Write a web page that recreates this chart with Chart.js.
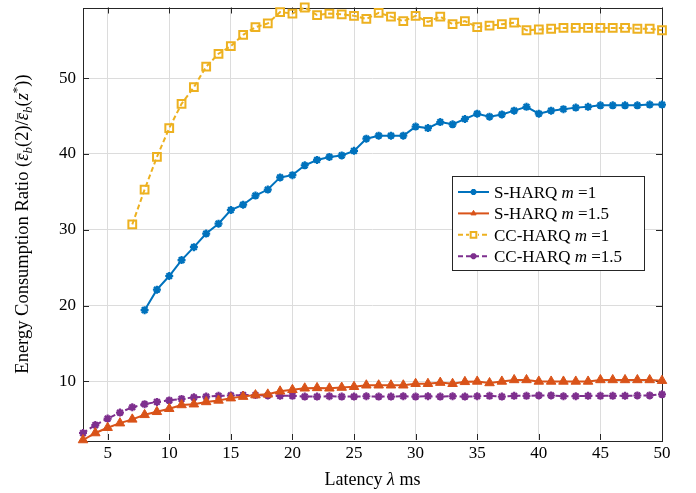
<!DOCTYPE html>
<html>
<head>
<meta charset="utf-8">
<script src="https://cdn.jsdelivr.net/npm/chart.js@4.4.1/dist/chart.umd.min.js"></script>
<style>
  html, body { margin: 0; padding: 0; background: #fff; }
  canvas { display: block; }
</style>
</head>
<body>
<canvas id="ratio" width="696" height="493"></canvas>
<script>
// latency axis (ms)
const latency = [3, 4, 5, 6, 7, 8, 9, 10, 11, 12, 13, 14, 15, 16, 17, 18, 19, 20, 21, 22, 23, 24, 25, 26,
  27, 28, 29, 30, 31, 32, 33, 34, 35, 36, 37, 38, 39, 40, 41, 42, 43, 44, 45, 46, 47, 48, 49, 50];

// S-HARQ m=1 starts at 8 ms, CC-HARQ m=1 at 7 ms
const sHarqM1 = [19.4, 22.1, 23.9, 26.0, 27.7, 29.5, 30.8, 32.6, 33.3, 34.5, 35.3, 36.9, 37.2, 38.5, 39.2,
  39.6, 39.8, 40.4, 42.0, 42.4, 42.4, 42.4, 43.6, 43.4, 44.2, 43.9, 44.6, 45.3, 44.9, 45.2, 45.7, 46.2,
  45.3, 45.7, 45.9, 46.1, 46.2, 46.4, 46.4, 46.4, 46.4, 46.5, 46.5];
const sHarqM15 = [2.28, 3.2, 3.9, 4.5, 5.0, 5.6, 6.0, 6.4, 6.9, 7.0, 7.3, 7.5, 7.8, 8.0, 8.2, 8.3, 8.7, 8.9,
  9.1, 9.15, 9.1, 9.2, 9.3, 9.5, 9.5, 9.5, 9.5, 9.7, 9.7, 9.85, 9.7, 9.95, 10.0, 9.8, 10.0, 10.2, 10.2,
  10.0, 10.0, 10.0, 10.0, 10.0, 10.2, 10.2, 10.2, 10.2, 10.2, 10.1];
const ccHarqM1 = [30.7, 35.3, 39.6, 43.4, 46.6, 48.8, 51.5, 53.2, 54.2, 55.7, 56.7, 57.2, 58.7, 58.5, 59.3,
  58.3, 58.5, 58.4, 58.2, 57.8, 58.6, 58.1, 57.5, 58.2, 57.4, 58.1, 57.1, 57.5, 56.7, 56.9, 57.1, 57.3,
  56.3, 56.4, 56.5, 56.6, 56.6, 56.6, 56.6, 56.6, 56.6, 56.5, 56.5, 56.3];
const ccHarqM15 = [3.2, 4.25, 5.1, 5.9, 6.6, 7.0, 7.3, 7.5, 7.7, 7.9, 8.0, 8.1, 8.15, 8.2, 8.2, 8.15, 8.1,
  8.1, 8.0, 8.0, 8.05, 8.0, 8.0, 8.05, 8.0, 8.0, 8.05, 8.0, 8.05, 8.0, 8.05, 8.0, 8.05, 8.1, 8.0, 8.1,
  8.1, 8.15, 8.15, 8.05, 8.05, 8.1, 8.1, 8.1, 8.1, 8.15, 8.15, 8.3];

const xTicks = [5, 10, 15, 20, 25, 30, 35, 40, 45, 50];
const yTicks = [10, 20, 30, 40, 50];
const legendNames = ['S-HARQ', 'S-HARQ', 'CC-HARQ', 'CC-HARQ'];
const legendM = ['1', '1.5', '1', '1.5'];

const SERIF = '"Liberation Serif", "Times New Roman", serif';

function pts(ys) {
  const off = latency.length - ys.length;
  return ys.map((y, i) => ({ x: latency[i + off], y: y }));
}

// draw a run of text pieces (normal / italic / sub / sup / bar) left to right
function drawRich(ctx, parts, x, y, size) {
  let cx = x;
  parts.forEach(p => {
    const s = p.sub || p.sup ? size * 0.7 : size;
    ctx.font = (p.it ? 'italic ' : '') + s + 'px ' + SERIF;
    let dy = 0;
    if (p.sub) dy = size * 0.22;
    if (p.sup) dy = -size * 0.38;
    ctx.fillText(p.t, cx, y + dy);
    const w = ctx.measureText(p.t).width;
    if (p.bar) {
      ctx.save();
      ctx.lineWidth = 0.9;
      ctx.beginPath();
      ctx.moveTo(cx + 1, y - size * 0.55);
      ctx.lineTo(cx + w, y - size * 0.55);
      ctx.stroke();
      ctx.restore();
    }
    cx += w;
  });
  return cx - x;
}

function richWidth(ctx, parts, size) {
  let w = 0;
  parts.forEach(p => {
    const s = p.sub || p.sup ? size * 0.7 : size;
    ctx.font = (p.it ? 'italic ' : '') + s + 'px ' + SERIF;
    w += ctx.measureText(p.t).width;
  });
  return w;
}

const framePlugin = {
  id: 'frame',
  beforeDatasetsDraw(chart) {
    const { ctx, chartArea: a, scales } = chart;
    ctx.save();
    ctx.strokeStyle = '#262626';
    ctx.lineWidth = 1;
    ctx.beginPath();
    xTicks.forEach(v => {
      const px = Math.round(scales.x.getPixelForValue(v)) + 0.5;
      ctx.moveTo(px, a.bottom); ctx.lineTo(px, a.bottom - 6);
      ctx.moveTo(px, a.top); ctx.lineTo(px, a.top + 6);
    });
    yTicks.forEach(v => {
      const py = Math.round(scales.y.getPixelForValue(v)) + 0.5;
      ctx.moveTo(a.left, py); ctx.lineTo(a.left + 6, py);
      ctx.moveTo(a.right, py); ctx.lineTo(a.right - 6, py);
    });
    ctx.stroke();
    ctx.strokeRect(Math.round(a.left) + 0.5, Math.round(a.top) + 0.5,
      Math.round(a.right - a.left), Math.round(a.bottom - a.top));
    ctx.restore();
  },
  afterDraw(chart) {
    const { ctx, chartArea: a } = chart;
    ctx.save();
    ctx.fillStyle = '#000';
    ctx.strokeStyle = '#000';
    ctx.textBaseline = 'alphabetic';

    // x title
    const xt = [{ t: 'Latency ' }, { t: 'λ', it: true }, { t: ' ms' }];
    const xw = richWidth(ctx, xt, 18);
    drawRich(ctx, xt, (a.left + a.right) / 2 - xw / 2, 485, 18);

    // y title
    const yt = [
      { t: 'Energy Consumption Ratio (' },
      { t: 'ε', it: true, bar: true }, { t: 'b', it: true, sub: true },
      { t: '(2)/' },
      { t: 'ε', it: true, bar: true }, { t: 'b', it: true, sub: true },
      { t: '(' }, { t: 'z', it: true }, { t: '*', sup: true }, { t: '))' }
    ];
    const yw = richWidth(ctx, yt, 18.5);
    ctx.save();
    ctx.translate(28, 224);
    ctx.rotate(-Math.PI / 2);
    drawRich(ctx, yt, -yw / 2, 0, 18.5);
    ctx.restore();

    // legend box
    const bx = 452, by = 176, bw = 192, bh = 94;
    ctx.fillStyle = '#fff';
    ctx.fillRect(bx, by, bw, bh);
    ctx.strokeStyle = '#262626';
    ctx.lineWidth = 1;
    ctx.strokeRect(bx + 0.5, by + 0.5, bw, bh);

    chart.data.datasets.forEach((ds, i) => {
      const ry = 192 + i * 21.4;
      ctx.save();
      ctx.strokeStyle = ds.borderColor;
      ctx.lineWidth = ds.borderWidth;
      ctx.setLineDash(ds.borderDash || []);
      ctx.beginPath();
      ctx.moveTo(458, ry); ctx.lineTo(489, ry);
      ctx.stroke();
      ctx.setLineDash([]);
      if (ds.pointStyle === 'rect') {
        ctx.fillStyle = '#fff';
        ctx.fillRect(469, ry - 4, 9, 8);
      }
      ctx.fillStyle = ds.pointBackgroundColor;
      ctx.strokeStyle = ds.pointBorderColor;
      ctx.lineWidth = ds.pointBorderWidth;
      Chart.helpers.drawPoint(ctx, {
        pointStyle: ds.pointStyle, rotation: 0,
        radius: ds.pointStyle === 'rect' ? 4 : 3, borderWidth: ds.pointBorderWidth
      }, 473.5, ry);
      ctx.restore();

      ctx.fillStyle = '#000';
      drawRich(ctx, [{ t: legendNames[i] + ' ' }, { t: 'm', it: true }, { t: ' =' + legendM[i] }],
        494, ry + 6, 17);
    });
    ctx.restore();
  }
};

const blue = '#0072BD', red = '#D95319', gold = '#EDB120', purple = '#7E2F8E';

new Chart(document.getElementById('ratio').getContext('2d'), {
  type: 'line',
  data: {
    datasets: [
      {
        label: 'S-HARQ m =1', data: pts(sHarqM1),
        borderColor: blue, borderWidth: 2, pointStyle: 'star', pointRadius: 4,
        pointBorderWidth: 2.2, pointBackgroundColor: blue, pointBorderColor: blue
      },
      {
        label: 'S-HARQ m =1.5', data: pts(sHarqM15),
        borderColor: red, borderWidth: 2, pointStyle: 'triangle', pointRadius: 5.5,
        pointBorderWidth: 1, pointBackgroundColor: red, pointBorderColor: red
      },
      {
        label: 'CC-HARQ m =1', data: pts(ccHarqM1),
        borderColor: gold, borderWidth: 2, borderDash: [5, 3], pointStyle: 'rect', pointRadius: 5.5,
        pointBorderWidth: 2, pointBackgroundColor: 'rgba(0,0,0,0)', pointBorderColor: gold
      },
      {
        label: 'CC-HARQ m =1.5', data: pts(ccHarqM15),
        borderColor: purple, borderWidth: 2, borderDash: [5, 3], pointStyle: 'star', pointRadius: 4,
        pointBorderWidth: 2.2, pointBackgroundColor: purple, pointBorderColor: purple
      }
    ]
  },
  options: {
    responsive: false,
    animation: false,
    clip: false,
    layout: { padding: { top: 7, right: 34, left: 0, bottom: 0 } },
    elements: { line: { tension: 0, fill: false } },
    plugins: { legend: { display: false }, tooltip: { enabled: false } },
    scales: {
      x: {
        type: 'linear', min: 3, max: 50,
        afterBuildTicks: s => { s.ticks = xTicks.map(v => ({ value: v })); },
        afterFit: s => { s.height = 53; s.paddingLeft = 0; s.paddingRight = 0; },
        grid: { color: '#dcdcdc', drawTicks: false },
        border: { display: false },
        ticks: { font: { family: SERIF, size: 17 }, color: '#000', padding: 3, maxRotation: 0 }
      },
      y: {
        type: 'linear', min: 2.28, max: 59.3,
        afterBuildTicks: s => { s.ticks = yTicks.map(v => ({ value: v })); },
        afterFit: s => { s.width = 83; s.paddingTop = 0; s.paddingBottom = 0; },
        grid: { color: '#dcdcdc', drawTicks: false },
        border: { display: false },
        ticks: { font: { family: SERIF, size: 17 }, color: '#000', padding: 7 }
      }
    }
  },
  plugins: [framePlugin]
});
</script>
</body>
</html>
